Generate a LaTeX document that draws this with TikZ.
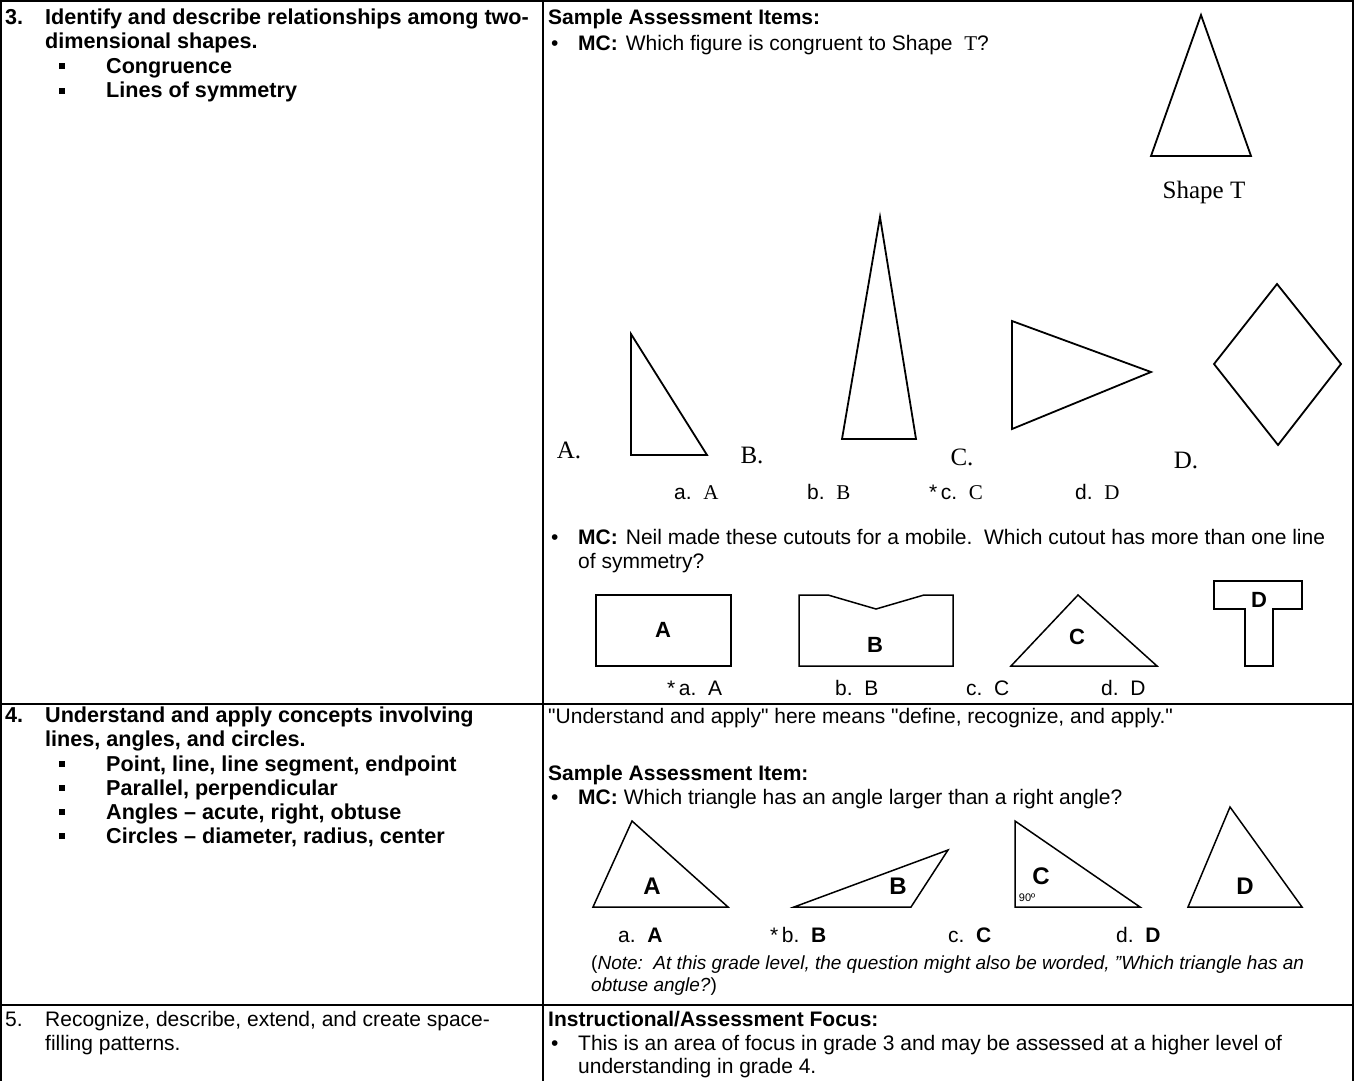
\documentclass[tikz,border=0pt]{standalone}
\usepackage{fontspec}
\setmainfont{Liberation Sans}[Ligatures=TeXOff]
\newfontfamily\tms{Liberation Serif}
\newcommand{\fsmain}{\fontsize{21}{24}\selectfont}
\newcommand{\fsleft}{\fontsize{21.6}{24}\selectfont}
\newcommand{\fsnote}{\fontsize{19}{22}\selectfont}
\begin{document}
\begin{tikzpicture}[x=1pt,y=-1pt,
  t/.style={anchor=base west, inner sep=0pt, font=\fsmain},
  tb/.style={anchor=base west, inner sep=0pt, font=\fsmain\bfseries},
  tl/.style={anchor=base west, inner sep=0pt, font=\fsleft\bfseries},
  tn/.style={anchor=base west, inner sep=0pt, font=\fsnote},
  sqb/.style={fill=black, minimum size=6pt, inner sep=0pt},
  grid/.style={line width=2pt},
  scan/.style={line width=1.8pt, line join=miter},
  fig/.style={line width=1.5pt, line join=miter},
  serifl/.style={inner sep=0pt, font=\fontsize{25}{25}\selectfont\tms},
  lbl/.style={inner sep=0pt, font=\fontsize{22}{22}\selectfont\bfseries},
  lblb/.style={inner sep=0pt, font=\fontsize{24}{24}\selectfont\bfseries}]
\useasboundingbox (0,0) rectangle (1354,1080);
% table
\draw[grid] (1,1082) -- (1,1) -- (1353,1) -- (1353,1082);
\draw[grid] (543,1) -- (543,1082);
\draw[grid] (1,704) -- (1353,704);
\draw[grid] (1,1005) -- (1353,1005);

% ---- row 3 left
\node[tl] (n3) at (5,24) {3.};
\node[tl] (l3a) at (45,24) {Identify and describe relationships among two-};
\node[tl] (l3b) at (45,48.5) {dimensional shapes.};
\node[sqb] (b3a) at (62,66) {};
\node[tl] (l3c) at (106,73) {Congruence};
\node[sqb] (b3b) at (62,90.5) {};
\node[tl] (l3d) at (106,97.5) {Lines of symmetry};

% ---- row 3 right
\node[tb] (h3) at (548,24) {Sample Assessment Items:};
\node[t] (bu1) at (551,50) {•};
\node[t] (q1) at (578,50) {\textbf{MC:}\hspace{8pt}Which figure is congruent to Shape\ \ {\tms T}?};

\draw[scan] (1201,15) -- (1251,156) -- (1151,156) -- cycle;
\node[serifl] (shT) at (1204,192) {Shape T};

\draw[scan] (631,334) -- (707,455) -- (631,455) -- cycle;
\draw[scan] (880,217) -- (916,439) -- (842,439) -- cycle;
\draw[scan] (1012,321) -- (1151,372) -- (1012,429) -- cycle;
\draw[scan] (1277,284) -- (1341,364) -- (1278,445) -- (1214,364) -- cycle;
\node[serifl] (fA) at (569,450) {A.};
\node[serifl] (fB) at (752,455) {B.};
\node[serifl] (fC) at (962,457) {C.};
\node[serifl] (fD) at (1186,460) {D.};

\node[t] (a1a) at (674,499) {a.\ \ {\tms A}};
\node[t] (a1b) at (807,499) {b.\ \ {\tms B}};
\node[t] (a1c) at (929,499) {*\,c.\ \ {\tms C}};
\node[t] (a1d) at (1075,499) {d.\ \ {\tms D}};

\node[t] (bu2) at (551,544) {•};
\node[t] (q2a) at (578,544) {\textbf{MC:}\hspace{8pt}Neil made these cutouts for a mobile.\ \ Which cutout has more than one line};
\node[t] (q2b) at (578,568) {of symmetry?};

\draw[fig] (596,595) rectangle (731,666);
\node[lbl] (sA) at (663,630) {A};
\draw[fig] (799,595) -- (828,595) -- (876,609) -- (924,595) -- (953,595) -- (953,666) -- (799,666) -- cycle;
\node[lbl] (sB) at (875,645) {B};
\draw[fig] (1078,595) -- (1157,666) -- (1011,666) -- cycle;
\node[lbl] (sC) at (1077,637) {C};
\draw[fig] (1214,581) -- (1302,581) -- (1302,609) -- (1273,609) -- (1273,666) -- (1245,666) -- (1245,609) -- (1214,609) -- cycle;
\node[lbl] (sD) at (1259,600) {D};

\node[t] (a2a) at (667,695) {*\,a.\ \ A};
\node[t] (a2b) at (835,695) {b.\ \ B};
\node[t] (a2c) at (966,695) {c.\ \ C};
\node[t] (a2d) at (1101,695) {d.\ \ D};

% ---- row 4 left
\node[tl] (n4) at (5,722) {4.};
\node[tl] (l4a) at (45,722) {Understand and apply concepts involving};
\node[tl] (l4b) at (45,746.3) {lines, angles, and circles.};
\node[sqb] (b4a) at (62,764) {};
\node[tl] (l4c) at (106,771) {Point, line, line segment, endpoint};
\node[sqb] (b4b) at (62,788) {};
\node[tl] (l4d) at (106,795) {Parallel, perpendicular};
\node[sqb] (b4c) at (62,812) {};
\node[tl] (l4e) at (106,819) {Angles – acute, right, obtuse};
\node[sqb] (b4d) at (62,836) {};
\node[tl] (l4f) at (106,843) {Circles – diameter, radius, center};

% ---- row 4 right
\node[t] (r4a) at (548,723) {"Understand and apply" here means "define, recognize, and apply."};
\node[tb] (h4) at (548,780) {Sample Assessment Item:};
\node[t] (bu3) at (551,804) {•};
\node[t] (q3) at (578,804) {\textbf{MC:}\hspace{6pt}Which triangle has an angle larger than a right angle?};

\draw[fig] (632,821) -- (728,907) -- (593,907) -- cycle;
\node[lblb] (tA) at (652,886) {A};
\draw[fig] (794,907) -- (948,850) -- (911,907) -- cycle;
\node[lblb] (tB) at (898,886) {B};
\draw[fig] (1015,821) -- (1140,907) -- (1015,907) -- cycle;
\node[lblb] (tC) at (1041,876) {C};
\node[inner sep=0pt, font=\fontsize{11}{11}\selectfont] (t90) at (1027,898) {90º};
\draw[fig] (1230,807) -- (1302,907) -- (1188,907) -- cycle;
\node[lblb] (tD) at (1245,886) {D};

\node[t] (a3a) at (618,942) {a.\ \ \textbf{A}};
\node[t] (a3b) at (770,942) {*\,b.\ \ \textbf{B}};
\node[t] (a3c) at (948,942) {c.\ \ \textbf{C}};
\node[t] (a3d) at (1116,942) {d.\ \ \textbf{D}};

\node[tn] (nt1) at (591,969) {(\textit{Note:\ \ At this grade level, the question might also be worded, ”Which triangle has an}};
\node[tn] (nt2) at (591,991) {\textit{obtuse angle?})};

% ---- row 5
\node[t] (n5) at (5,1026) {5.};
\node[t] (l5a) at (45,1026) {Recognize, describe, extend, and create space-};
\node[t] (l5b) at (45,1050) {filling patterns.};
\node[tb] (h5) at (548,1026) {Instructional/Assessment Focus:};
\node[t] (bu4) at (551,1050) {•};
\node[t] (r5a) at (578,1050) {This is an area of focus in grade 3 and may be assessed at a higher level of};
\node[t] (r5b) at (578,1073) {understanding in grade 4.};
\end{tikzpicture}
\end{document}
